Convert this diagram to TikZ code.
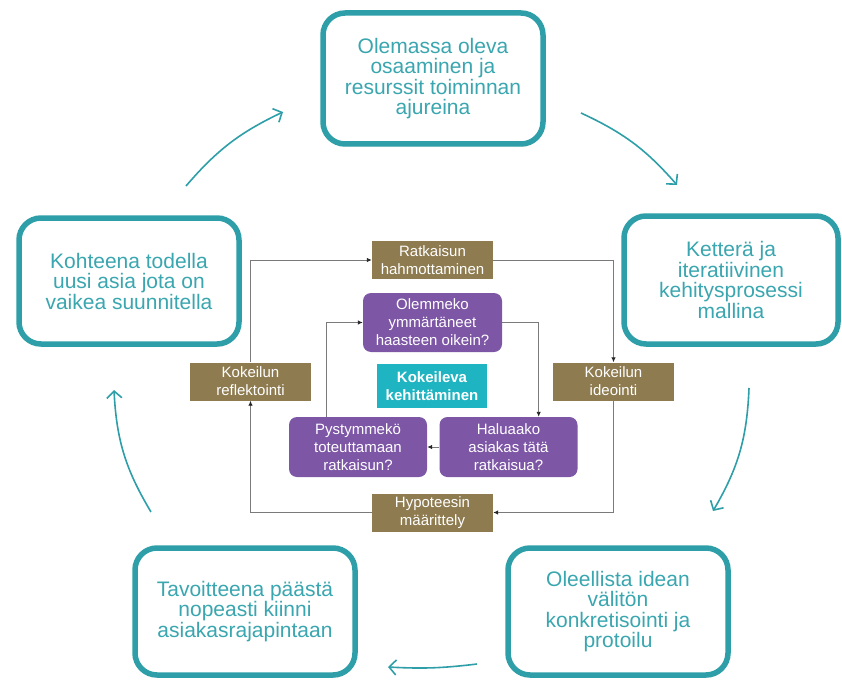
\documentclass[tikz,border=0pt]{standalone}
\usepackage{fontspec}
\setmainfont{Liberation Sans}
\usetikzlibrary{arrows.meta,shadows}
\definecolor{tealline}{HTML}{2E9FA8}
\definecolor{tealtxt}{HTML}{3AA6AF}
\definecolor{brownbg}{HTML}{8E7B50}
\definecolor{purpbg}{HTML}{7D56A6}
\definecolor{centerteal}{HTML}{1FB4C2}
\definecolor{connline}{HTML}{7A7A7A}
\begin{document}
\begin{tikzpicture}[x=1pt,y=-1pt,
  bigbox/.style={draw=tealline, line width=5.5pt, rounded corners=22pt, fill=white,
    align=center, text=tealtxt, font=\fontsize{21}{20.5}\selectfont, inner sep=0pt,
    drop shadow={shadow xshift=1pt, shadow yshift=-2.5pt, opacity=0.35}},
  smallbox/.style={text=white, align=center, inner sep=0pt,
    font=\fontsize{15}{18}\selectfont},
  brownbox/.style={smallbox, fill=brownbg, minimum width=121pt, minimum height=38pt},
  purpbox/.style={smallbox, fill=purpbg, rounded corners=8pt, minimum width=138pt, minimum height=60pt},
  centerbox/.style={smallbox, fill=centerteal, minimum width=110pt, minimum height=44pt,
    font=\fontsize{15}{18}\selectfont\bfseries},
  conn/.style={draw=connline, line width=0.9pt, -{Latex[length=5pt,width=4.5pt,color=black!85]}},
  carrow/.style={draw=tealline, line width=1.6pt, -{Straight Barb[length=7pt,width=15pt]}}
]
\useasboundingbox (0,0) rectangle (842,679);

% outer boxes
\node[bigbox, minimum width=220pt, minimum height=131pt] (top) at (433,78.5)
  {Olemassa oleva\\osaaminen ja\\resurssit toiminnan\\ajureina};
\node[bigbox, minimum width=220pt, minimum height=126pt] (left) at (129,281)
  {Kohteena todella\\uusi asia jota on\\vaikea suunnitella};
\node[bigbox, minimum width=214pt, minimum height=128pt] (right) at (731,280)
  {Ketterä ja\\iteratiivinen\\kehitysprosessi\\mallina};
\node[bigbox, minimum width=220pt, minimum height=127pt] (botleft) at (245,611.5)
  {Tavoitteena päästä\\nopeasti kiinni\\asiakasrajapintaan};
\node[bigbox, minimum width=220pt, minimum height=127pt] (botright) at (618,611.5)
  {Oleellista idean\\välitön\\konkretisointi ja\\protoilu};

% curved arrows
\coordinate (a1s) at (186,186); \coordinate (a1e) at (283,112);
\coordinate (a2s) at (581,113); \coordinate (a2e) at (677,185);
\coordinate (a3s) at (749,388); \coordinate (a3e) at (713,511);
\coordinate (a4s) at (477,664); \coordinate (a4e) at (388,667);
\coordinate (a5s) at (151,512); \coordinate (a5e) at (114,390);
\draw[carrow] (a1s) to[bend left=12] (a1e);
\draw[carrow] (a2s) to[bend left=12] (a2e);
\draw[carrow] (a3s) to[bend left=14] (a3e);
\draw[carrow] (a4s) to[bend left=5] (a4e);
\draw[carrow] (a5s) to[bend left=14] (a5e);

% center diagram
\node[brownbox] (R) at (432.5,260) {Ratkaisun\\hahmottaminen};
\node[brownbox] (KI) at (613.5,381.5) {Kokeilun\\ideointi};
\node[brownbox] (Hy) at (432.5,512.5) {Hypoteesin\\määrittely};
\node[brownbox] (KR) at (250.5,381.5) {Kokeilun\\reflektointi};
\node[purpbox, minimum width=139pt, minimum height=59pt] (O) at (432.5,322.5)
  {Olemmeko\\ymmärtäneet\\haasteen oikein?};
\node[purpbox] (H) at (508.5,447) {Haluaako\\asiakas tätä\\ratkaisua?};
\node[purpbox] (P) at (358,447) {Pystymmekö\\toteuttamaan\\ratkaisun?};
\node[centerbox] (K) at (432,386) {Kokeileva\\kehittäminen};

\draw[conn] (KR.north) |- (R.west);
\draw[conn] (R.east) -| (KI.north);
\draw[conn] (KI.south) |- (Hy.east);
\draw[conn] (Hy.west) -| (KR.south);
\draw[conn] (O.east) -| (H.45);
\draw[conn] (H.west) -- (P.east);
\draw[conn] (P.136) |- (O.west);
\end{tikzpicture}
\end{document}
